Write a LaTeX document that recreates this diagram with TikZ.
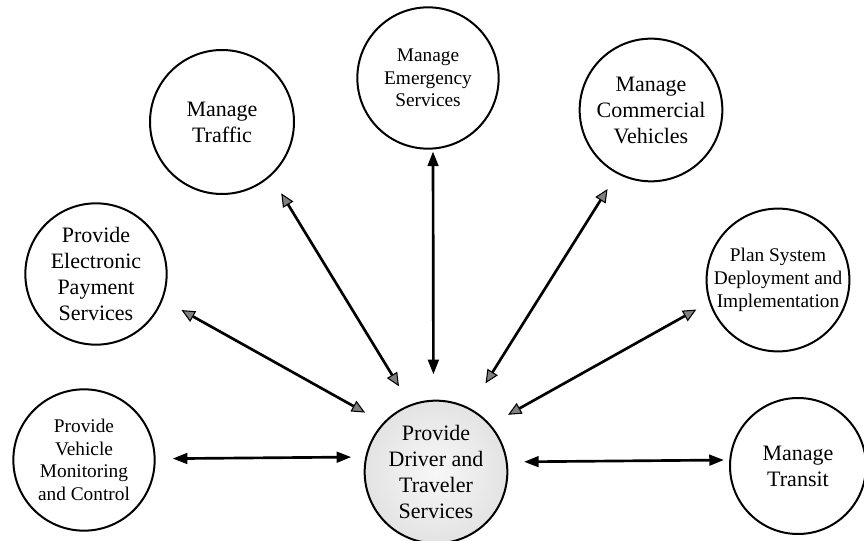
\documentclass[tikz,border=0pt]{standalone}
\usepackage{fontspec}
\setmainfont{Liberation Serif}
\usepackage{tikz}
\usetikzlibrary{arrows.meta}

\tikzset{
  fn/.style={draw, circle, line width=1.5pt, inner sep=0pt, minimum size=106pt, align=center,
    font=\fontsize{16.5}{19.5}\selectfont},
  fnsmall/.style={fn, font=\fontsize{14.5}{17}\selectfont},
  link/.style={line width=2pt, {Triangle[length=11pt,width=8pt]}-{Triangle[length=11pt,width=8pt]}},
  slant/.style={line width=2pt, {Triangle[length=10pt,width=9pt,fill=gray,line width=0.8pt]}-{Triangle[length=10pt,width=9pt,fill=gray,line width=0.8pt]}}
}

\begin{document}
\begin{tikzpicture}[x=0.75pt,y=0.75pt,yscale=-1,xscale=1]
\useasboundingbox (0,0) rectangle (864,541);

%Shape: Circle [center]
\node [fn, inner color=gray!6, outer color=gray!22, minimum size=107pt] (drv) at (436,472) {Provide\\Driver and\\Traveler\\Services};
%Shape: Circle
\node [fn, minimum size=108pt] (traffic) at (222,122) {Manage\\Traffic};
%Shape: Circle
\node [fnsmall] (emerg) at (428,78) {Manage\\Emergency\\Services};
%Shape: Circle
\node [fn, minimum size=107pt] (commer) at (651,110) {Manage\\Commercial\\Vehicles};
%Shape: Circle
\node [fn] (pay) at (96,274) {Provide\\Electronic\\Payment\\Services};
%Shape: Circle
\node [fnsmall, minimum size=104pt] (plan) at (778,280) {Plan System\\Deployment and\\Implementation};
%Shape: Circle
\node [fnsmall] (monitor) at (84,460) {Provide\\Vehicle\\Monitoring\\and Control};
%Shape: Circle
\node [fn, minimum size=102pt] (transit) at (798,466) {Manage\\Transit};

%Straight Lines
\draw [link, shorten <=12.75pt, shorten >=10.5pt] (monitor.1.6) -- (drv.168.7);
\draw [link, shorten <=12.3pt, shorten >=4pt] (drv.8.85) -- (transit.175.9);
\draw [link, shorten <=1.5pt, shorten >=19pt] (emerg.-86) -- (drv.92.4);
\draw [slant, shorten <=15pt, shorten >=16pt] (traffic.-48) -- (drv.111);
\draw [slant, shorten <=16pt, shorten >=15.5pt] (pay.-21) -- (drv.137.6);
\draw [slant, shorten <=13.4pt, shorten >=22pt] (commer.-118.9) -- (drv.62.2);
\draw [slant, shorten <=11pt, shorten >=15pt] (plan.-162.6) -- (drv.41);
\end{tikzpicture}
\end{document}
